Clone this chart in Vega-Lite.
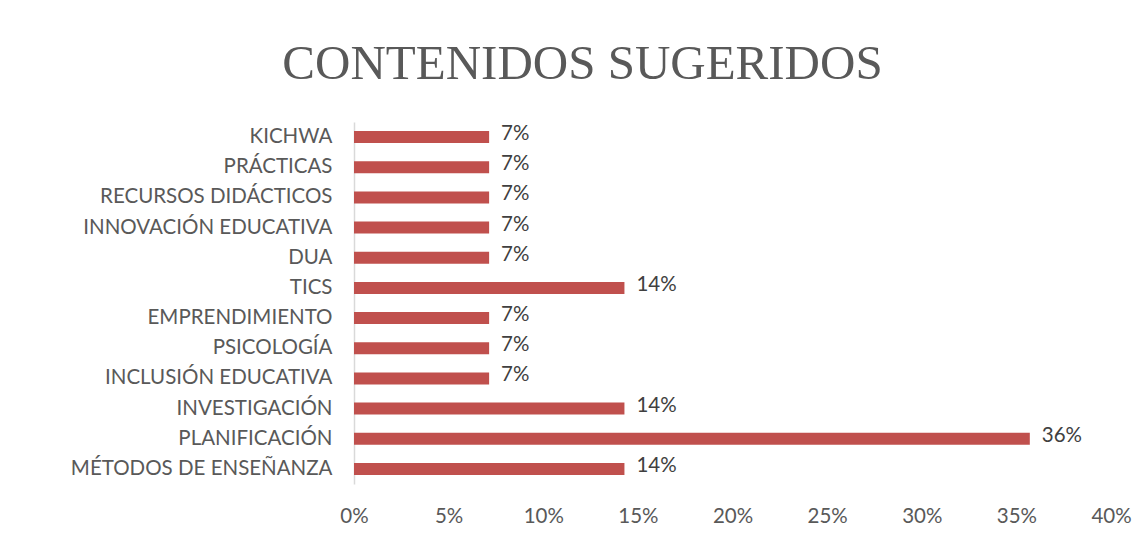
{
  "$schema": "https://vega.github.io/schema/vega-lite/v6.json",
  "width": 757,
  "height": 362,
  "autosize": "none",
  "padding": {"left": 354, "top": 122, "right": 26, "bottom": 52},
  "background": "white",
  "config": {"view": {"stroke": null}, "font": "Lato"},
  "title": {
    "text": "CONTENIDOS SUGERIDOS",
    "font": "Liberation Serif",
    "fontSize": 49,
    "fontWeight": "normal",
    "color": "#595959",
    "anchor": "middle",
    "dx": -150,
    "offset": 33
  },
  "data": {
    "values": [
      {"contenido": "KICHWA", "valor": 0.0714},
      {"contenido": "PRÁCTICAS", "valor": 0.0714},
      {"contenido": "RECURSOS DIDÁCTICOS", "valor": 0.0714},
      {"contenido": "INNOVACIÓN EDUCATIVA", "valor": 0.0714},
      {"contenido": "DUA", "valor": 0.0714},
      {"contenido": "TICS", "valor": 0.1429},
      {"contenido": "EMPRENDIMIENTO", "valor": 0.0714},
      {"contenido": "PSICOLOGÍA", "valor": 0.0714},
      {"contenido": "INCLUSIÓN EDUCATIVA ", "valor": 0.0714},
      {"contenido": "INVESTIGACIÓN", "valor": 0.1429},
      {"contenido": "PLANIFICACIÓN", "valor": 0.3571},
      {"contenido": "MÉTODOS DE ENSEÑANZA ", "valor": 0.1429}
    ]
  },
  "encoding": {
    "y": {
      "field": "contenido",
      "type": "nominal",
      "sort": null,
      "scale": {"paddingInner": 0.6, "paddingOuter": 0.3},
      "axis": {
        "title": null,
        "ticks": false,
        "domainColor": "#D9D9D9",
        "domainWidth": 1.5,
        "labelFont": "Lato",
        "labelFontSize": 20.5,
        "labelColor": "#595959",
        "labelPadding": 22,
        "labelLimit": 400
      }
    },
    "x": {
      "field": "valor",
      "type": "quantitative",
      "scale": {"domain": [0, 0.4], "nice": false},
      "axis": {
        "title": null,
        "format": ".0%",
        "values": [0, 0.05, 0.1, 0.15, 0.2, 0.25, 0.3, 0.35, 0.4],
        "grid": false,
        "ticks": false,
        "domain": false,
        "labelFlush": false,
        "labelFont": "Lato",
        "labelFontSize": 20.5,
        "labelColor": "#595959",
        "labelPadding": 22
      }
    }
  },
  "layer": [
    {"mark": {"type": "bar", "color": "#C0504D"}},
    {
      "mark": {"type": "text", "align": "left", "dx": 12, "dy": -3, "fontSize": 20.5, "font": "Lato", "color": "#404040"},
      "encoding": {"text": {"field": "valor", "type": "quantitative", "format": ".0%"}}
    }
  ]
}
